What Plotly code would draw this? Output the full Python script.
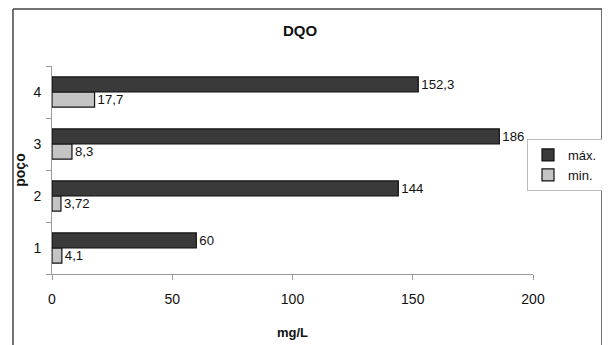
import plotly.graph_objects as go

categories = ["1", "2", "3", "4"]
max_values = [60, 144, 186, 152.3]
min_values = [4.1, 3.72, 8.3, 17.7]
x_ticks = [0, 50, 100, 150, 200]

FONT = "Liberation Sans Narrow, Arial Narrow, Liberation Sans, Arial, sans-serif"
BOLD = "Liberation Sans, Arial, sans-serif"

# the page has an 8px body margin: the figure is offset by (8, 8) on screen
W, H = 602, 337
L, T = 44, 58          # plot area left/top inside the figure
PW, PH = 481, 208      # plot area size

def px_x(x):
    return (x - L) / PW

def px_y(y):
    return (T + PH - y) / PH

fig = go.Figure()
fig.add_trace(go.Bar(
    y=categories, x=min_values, orientation="h", name="min.",
    marker=dict(color="#c4c4c4", line=dict(color="#111111", width=1.2)),
    texttemplate="%{x}", textposition="outside",
    textfont=dict(family=FONT, size=14, color="#111111"), cliponaxis=False,
))
fig.add_trace(go.Bar(
    y=categories, x=max_values, orientation="h", name="máx.",
    marker=dict(color="#3a3a3a", line=dict(color="#111111", width=1.2)),
    texttemplate="%{x}", textposition="outside",
    textfont=dict(family=FONT, size=14, color="#111111"), cliponaxis=False,
))

fig.update_layout(
    width=W, height=H,
    margin=dict(l=L, r=W - L - PW, t=T, b=H - T - PH, autoexpand=False),
    paper_bgcolor="white", plot_bgcolor="white",
    separators=",.",
    barmode="group", bargap=0.42, bargroupgap=0,
    font=dict(family=FONT, size=14, color="#111111"),
    title=dict(text="<b>DQO</b>", font=dict(family=BOLD, size=15, color="#111111"),
               x=(300 - 8) / W, xref="container", xanchor="center",
               y=1 - 23 / H, yref="container", yanchor="middle"),
    showlegend=True,
    legend=dict(x=px_x(519), y=px_y(131), xanchor="left", yanchor="top",
                bordercolor="#bbbbbb", borderwidth=1, bgcolor="white",
                traceorder="reversed", font=dict(family=FONT, size=13),
                itemwidth=30, tracegroupgap=2),
    xaxis=dict(range=[0, 200], tickvals=x_ticks, showgrid=False, zeroline=False,
               automargin=False,
               showline=True, linecolor="#999999", linewidth=1,
               ticks="outside", ticklen=5, tickcolor="#999999",
               ticklabelstandoff=7,
               tickfont=dict(family=FONT, size=14),
               title=dict(text="<b>mg/L</b>", font=dict(family=BOLD, size=13), standoff=22)),
    yaxis=dict(categoryorder="array", categoryarray=categories, showgrid=False,
               automargin=False,
               zeroline=False, showline=True, linecolor="#999999", linewidth=1,
               ticks="outside", ticklen=5, tickcolor="#999999", tickson="boundaries",
               ticklabelstandoff=7,
               tickfont=dict(family=FONT, size=14),
               title=dict(text="<b>poço</b>", font=dict(family=BOLD, size=14), standoff=4)),
)

bx0, bx1, by0, by1 = px_x(5), px_x(594), px_y(H + 10), px_y(1)
for (a, b, c, d) in [(bx0, by1, bx1, by1), (bx0, by0, bx0, by1), (bx1, by0, bx1, by1)]:
    fig.add_shape(type="line", xref="paper", yref="paper", x0=a, y0=b, x1=c, y1=d,
                  line=dict(color="#444444", width=1.5), layer="above")

fig.write_html("out.html")
